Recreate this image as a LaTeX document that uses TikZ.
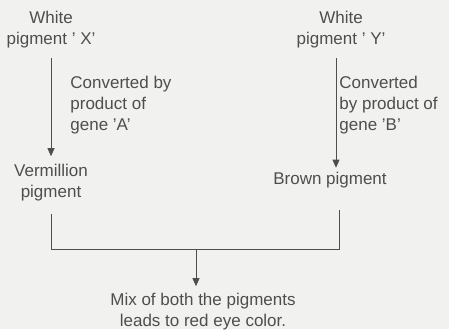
\documentclass[tikz,border=0pt]{standalone}
\usepackage{fontspec}
\setmainfont{Liberation Sans}
\usetikzlibrary{arrows.meta, positioning, backgrounds}
\definecolor{paper}{RGB}{241,241,239}
\definecolor{ink}{RGB}{78,78,78}
\tikzset{
	x = .5pt,
	y = -.5pt,
	line width = .75pt,
	font = \fontsize{8.5}{10.5}\selectfont,
	>={Triangle[length=4pt, width=3.5pt]},
	pigment/.style={
		text = ink,
		align = center,
		inner sep = 1pt
	},
	note/.style={
		text = ink,
		align = left,
		anchor = north west,
		inner sep = 0pt
	},
	edge/.style={
		->,
		draw = ink
	},
	join line/.style={
		draw = ink
	}
}

\begin{document}
\begin{tikzpicture}
\useasboundingbox[fill=paper] (0,0) rectangle (449,329);

\node[pigment] (wx) at (51,30) {White\\pigment ' X'};
\node[pigment] (ver) at (51,183) {Vermillion\\pigment};
\node[pigment] (wy) at (341,30) {White\\pigment ' Y'};
\node[pigment] (brown) at (330,180) {Brown pigment};
\node[pigment] (mix) at (203,312) {Mix of both the pigments\\leads to red eye color.};

\node[note] (geneA) at (70,76) {Converted by\\product of\\gene 'A'};
\node[note] (geneB) at (339,76) {Converted\\by product of\\gene 'B'};

\coordinate (join) at (196,249);

\draw[edge, shorten <=3.5pt, shorten >=3pt] (wx.south) -- (ver.north);
\draw[edge, shorten <=3.5pt, shorten >=1pt] ([xshift=-2.5pt]wy.south) -- ([xshift=-2.5pt]wy.south |- brown.north);

\draw[join line] ([yshift=-5pt]ver.south) |- (join) -| ([xshift=4.5pt, yshift=-10pt]brown.south);
\draw[edge, shorten >=2.5pt] (join) -- (join |- mix.north);
\end{tikzpicture}
\end{document}
